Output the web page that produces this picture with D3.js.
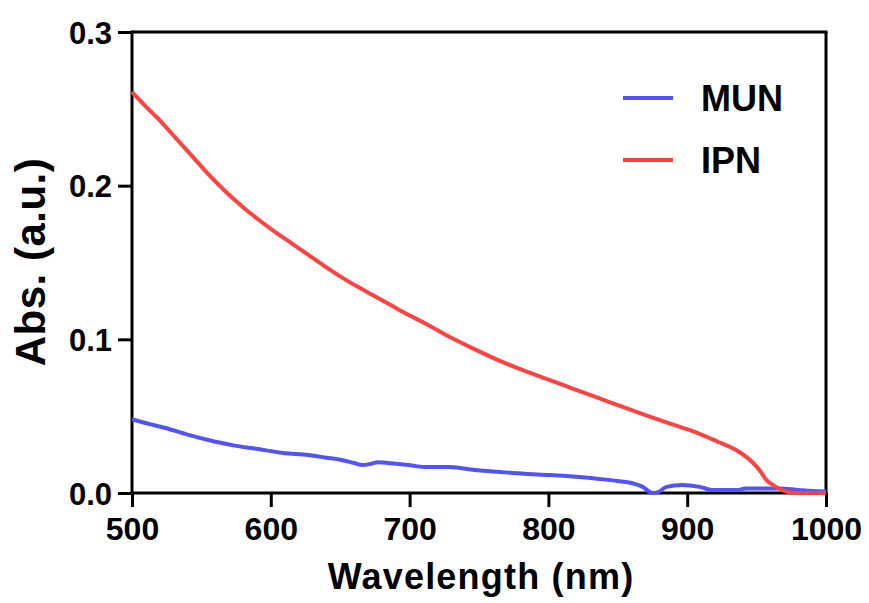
<!DOCTYPE html>
<html>
<head>
<meta charset="utf-8">
<script src="https://cdn.jsdelivr.net/npm/d3@7/dist/d3.min.js"></script>
<style>
  html, body { margin: 0; padding: 0; background: #fff; }
  svg text { font-family: "Liberation Sans", Arial, sans-serif; font-weight: bold; fill: #000; }
</style>
</head>
<body>
<svg id="chart" width="869" height="603"></svg>
<script>
// ---- data ----
const seriesNames = ["MUN", "IPN"];
const seriesColors = ["#5353FA", "#FF4242"];

const munWavelength = [500, 512, 524, 540, 555, 573, 591, 609, 627, 640, 651, 660, 666, 672, 677, 690, 699, 711, 729, 747, 765, 783, 801, 820, 837, 850, 860, 868, 875, 880, 885, 896, 909, 918, 937, 942, 966, 980, 990, 1000];
const munAbs = [0.048, 0.045, 0.0423, 0.038, 0.0345, 0.031, 0.0286, 0.026, 0.0247, 0.023, 0.0215, 0.0195, 0.0182, 0.019, 0.020, 0.019, 0.0182, 0.0169, 0.0169, 0.015, 0.0137, 0.0125, 0.0117, 0.0105, 0.0091, 0.0078, 0.0065, 0.004, 0.0, 0.001, 0.004, 0.0052, 0.004, 0.002, 0.002, 0.003, 0.003, 0.002, 0.0013, 0.001];

const ipnWavelength = [500, 510, 520, 530, 543, 555, 567, 580, 591, 603, 615, 627, 639, 650, 663, 675, 687, 699, 711, 729, 747, 765, 783, 801, 819, 837, 855, 873, 890, 900, 909, 923, 937, 947, 952, 957, 964, 973, 985, 1000];
const ipnAbs = [0.261, 0.2515, 0.2425, 0.2325, 0.2195, 0.2075, 0.1965, 0.186, 0.178, 0.170, 0.1625, 0.155, 0.1475, 0.141, 0.134, 0.128, 0.122, 0.116, 0.1105, 0.1015, 0.0935, 0.086, 0.0795, 0.0735, 0.0675, 0.0615, 0.0555, 0.0497, 0.0445, 0.0415, 0.0385, 0.033, 0.027, 0.020, 0.015, 0.0085, 0.004, 0.0005, 0.0, 0.0];

const xTicks = [500, 600, 700, 800, 900, 1000];
const yTicks = [0.0, 0.1, 0.2, 0.3];
const xTitle = "Wavelength (nm)";
const yTitle = "Abs. (a.u.)";

// ---- layout ----
const svg = d3.select("#chart");
const x = d3.scaleLinear().domain([500, 1000]).range([132, 826]);
const y = d3.scaleLinear().domain([0, 0.3]).range([493, 32]);
const tickLen = 14;
const axisColor = "#000";
const axisWidth = 3;

// x axis
const gx = svg.append("g").attr("transform", `translate(0,${y(0)})`)
  .call(d3.axisBottom(x).tickValues(xTicks).tickFormat(d3.format("d"))
    .tickSize(tickLen).tickSizeOuter(0).tickPadding(10));
gx.select(".domain").attr("stroke", axisColor).attr("stroke-width", axisWidth)
  .attr("d", `M${x(500) - 1.5},0H${x(1000) + 1.5}`);
gx.selectAll(".tick line").attr("stroke", axisColor).attr("stroke-width", axisWidth);
gx.selectAll(".tick text").attr("font-size", 32).attr("dy", "0.72em");

// y axis
const gy = svg.append("g").attr("transform", `translate(${x(500)},0)`)
  .call(d3.axisLeft(y).tickValues(yTicks).tickFormat(d3.format(".1f"))
    .tickSize(tickLen).tickSizeOuter(0).tickPadding(6));
gy.select(".domain").attr("stroke", axisColor).attr("stroke-width", axisWidth)
  .attr("d", `M0,${y(0.3) - 1.5}V${y(0) + 1.5}`);
gy.selectAll(".tick line").attr("stroke", axisColor).attr("stroke-width", axisWidth);
gy.selectAll(".tick text").attr("font-size", 31).attr("dy", "0.36em");

// frame (top and right)
svg.append("line")
  .attr("x1", x(500)).attr("x2", x(1000) + 1.5)
  .attr("y1", y(0.3)).attr("y2", y(0.3))
  .attr("stroke", axisColor).attr("stroke-width", axisWidth);
svg.append("line")
  .attr("x1", x(1000)).attr("x2", x(1000))
  .attr("y1", y(0.3)).attr("y2", y(0))
  .attr("stroke", axisColor).attr("stroke-width", axisWidth);

// series
const seriesData = [
  munWavelength.map((w, i) => [w, munAbs[i]]),
  ipnWavelength.map((w, i) => [w, ipnAbs[i]])
];
const line = d3.line().x(d => x(d[0])).y(d => y(d[1])).curve(d3.curveMonotoneX);
seriesData.forEach((data, i) => {
  svg.append("path").datum(data)
    .attr("fill", "none")
    .attr("stroke", seriesColors[i])
    .attr("stroke-width", 4)
    .attr("stroke-linejoin", "round")
    .attr("d", line);
});

// axis titles
svg.append("text")
  .attr("x", 481).attr("y", 589)
  .attr("text-anchor", "middle").attr("font-size", 36)
  .attr("letter-spacing", 1.2)
  .text(xTitle);
svg.append("text")
  .attr("transform", `translate(45,262) rotate(-90)`)
  .attr("text-anchor", "middle").attr("font-size", 42)
  .attr("letter-spacing", 0.5)
  .text(yTitle);

// legend
const legendY = [98, 160];
seriesNames.forEach((name, i) => {
  svg.append("line")
    .attr("x1", 623).attr("x2", 673)
    .attr("y1", legendY[i]).attr("y2", legendY[i])
    .attr("stroke", seriesColors[i]).attr("stroke-width", 4);
  svg.append("text")
    .attr("x", 701).attr("y", legendY[i] + 13)
    .attr("font-size", 36)
    .text(name);
});
</script>
</body>
</html>
